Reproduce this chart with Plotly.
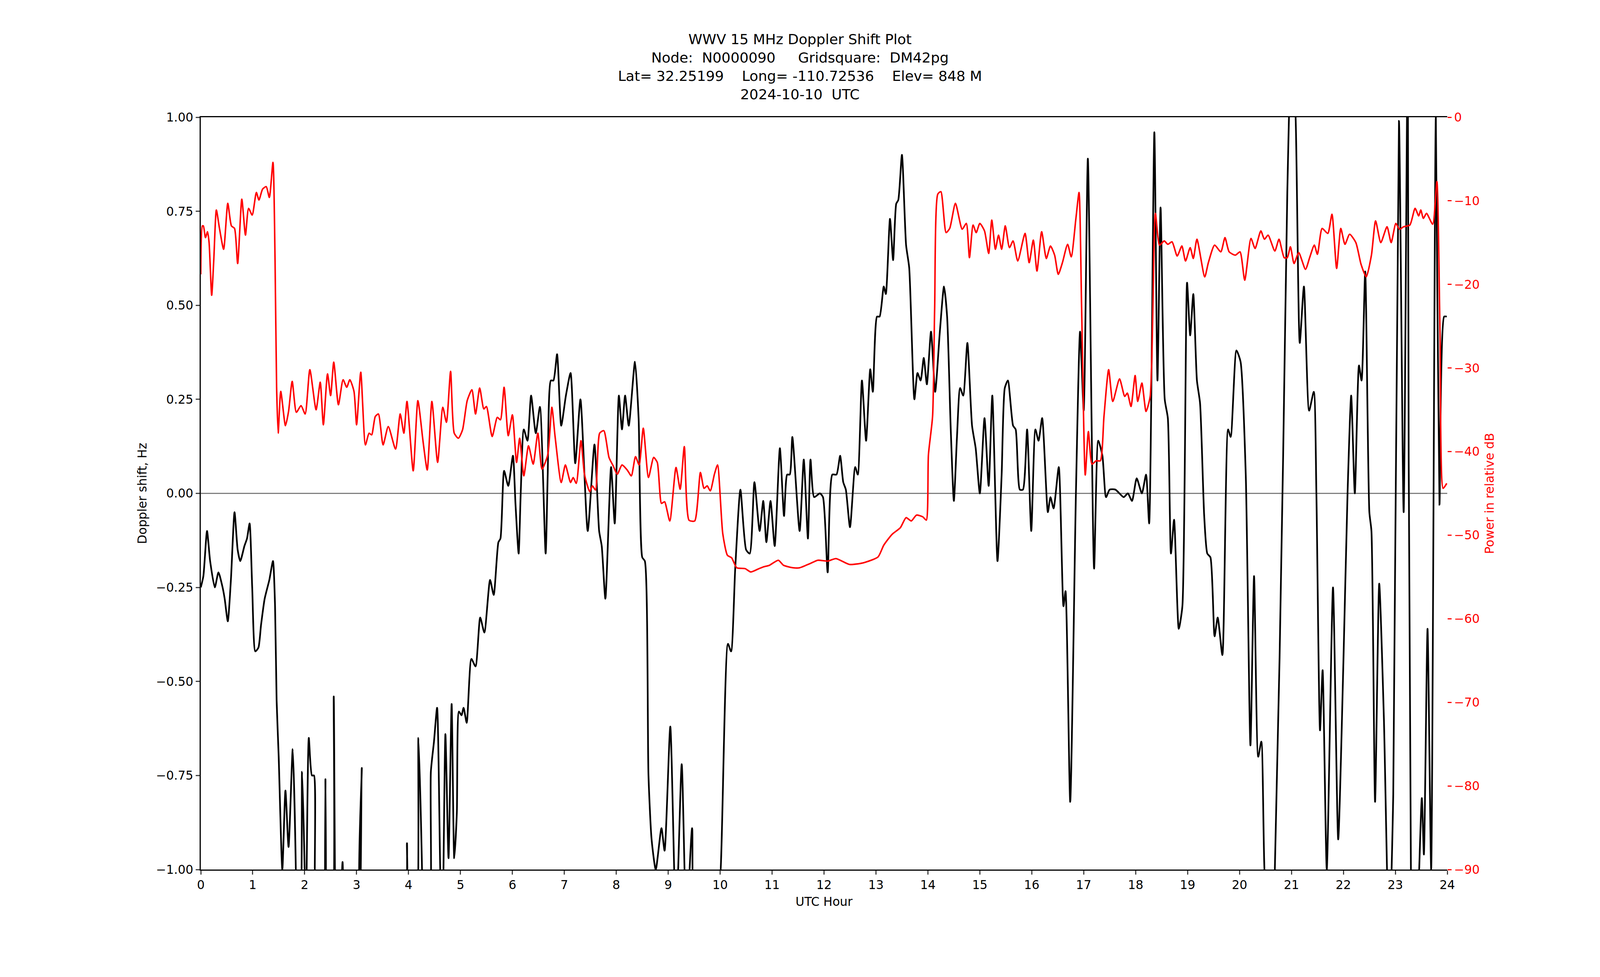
import plotly.graph_objects as go

dop_hours = [0,0.05,0.12,0.18,0.27,0.34,0.42,0.46,0.52,0.58,0.65,0.71,0.76,0.84,0.89,0.94,0.99,1.05,1.11,1.16,1.23,1.32,1.39,1.43,1.46,1.5,1.57,1.63,1.69,1.77,1.83,1.84,1.89,1.95,2.0,2.02,2.08,2.14,2.18,2.24,2.35,2.4,2.44,2.51,2.56,2.61,2.69,2.73,2.77,3.02,3.1,3.16,3.89,3.97,4.02,4.12,4.19,4.26,4.28,4.38,4.43,4.49,4.55,4.61,4.65,4.71,4.77,4.83,4.88,4.93,4.97,5.02,5.06,5.12,5.21,5.29,5.38,5.46,5.57,5.64,5.73,5.77,5.84,5.92,6.01,6.06,6.12,6.16,6.22,6.29,6.36,6.45,6.53,6.64,6.68,6.74,6.79,6.86,6.94,7.03,7.12,7.21,7.31,7.45,7.58,7.67,7.72,7.79,7.9,7.97,8.05,8.11,8.17,8.24,8.36,8.43,8.5,8.55,8.62,8.68,8.76,8.87,8.93,9.04,9.15,9.26,9.35,9.46,9.56,9.89,10.01,10.15,10.21,10.29,10.39,10.5,10.57,10.66,10.76,10.83,10.89,10.97,11.05,11.15,11.23,11.29,11.34,11.39,11.53,11.61,11.69,11.74,11.81,11.92,11.98,12.07,12.16,12.24,12.31,12.37,12.42,12.5,12.6,12.65,12.73,12.81,12.89,12.94,13.02,13.07,13.15,13.19,13.27,13.33,13.39,13.43,13.5,13.58,13.64,13.74,13.8,13.86,13.92,13.98,14.06,14.14,14.23,14.31,14.37,14.44,14.5,14.56,14.62,14.68,14.76,14.85,14.92,15.0,15.09,15.17,15.24,15.34,15.42,15.48,15.54,15.64,15.69,15.77,15.83,15.91,15.99,16.07,16.13,16.2,16.31,16.36,16.42,16.52,16.61,16.65,16.74,16.85,16.93,17.0,17.08,17.2,17.28,17.36,17.43,17.5,17.61,17.77,17.85,17.93,18.02,18.12,18.2,18.26,18.36,18.42,18.48,18.56,18.62,18.68,18.74,18.83,18.9,18.99,19.05,19.11,19.18,19.24,19.32,19.38,19.44,19.52,19.58,19.67,19.78,19.83,19.94,20.02,20.12,20.21,20.28,20.36,20.42,20.48,20.58,20.68,20.84,20.92,21.0,21.08,21.16,21.24,21.34,21.43,21.48,21.55,21.6,21.68,21.8,21.9,22.0,22.08,22.15,22.22,22.3,22.35,22.42,22.5,22.54,22.61,22.69,22.78,22.88,22.96,23.07,23.16,23.24,23.3,23.4,23.51,23.55,23.62,23.69,23.78,23.85,23.94,23.99]
doppler_hz = [-0.25,-0.22,-0.1,-0.18,-0.25,-0.21,-0.25,-0.28,-0.34,-0.23,-0.05,-0.15,-0.18,-0.14,-0.12,-0.08,-0.25,-0.42,-0.41,-0.35,-0.28,-0.23,-0.18,-0.3,-0.55,-0.7,-1.0,-0.79,-0.94,-0.68,-1.0,-1.2,-1.2,-0.74,-1.0,-1.2,-0.65,-0.75,-0.75,-1.2,-1.2,-0.76,-1.2,-1.2,-0.54,-1.2,-1.1,-0.98,-1.1,-1.2,-0.73,-1.2,-1.2,-0.93,-1.2,-1.2,-0.65,-1.0,-1.2,-1.2,-0.74,-0.66,-0.57,-1.0,-1.2,-0.64,-0.97,-0.56,-0.97,-0.85,-0.58,-0.59,-0.57,-0.61,-0.44,-0.46,-0.33,-0.37,-0.23,-0.27,-0.13,-0.12,0.06,0.02,0.1,-0.03,-0.16,0.0,0.17,0.14,0.26,0.16,0.23,-0.16,0.05,0.3,0.3,0.37,0.18,0.26,0.32,0.08,0.25,-0.1,0.13,-0.1,-0.14,-0.28,0.07,-0.08,0.26,0.17,0.26,0.18,0.35,0.2,-0.17,-0.18,-0.75,-0.92,-1.0,-0.89,-0.95,-0.62,-1.15,-0.72,-1.15,-0.89,-1.2,-1.2,-1.0,-0.4,-0.42,-0.2,0.01,-0.15,-0.16,0.03,-0.1,-0.02,-0.13,-0.02,-0.14,0.12,-0.06,0.05,0.05,0.15,-0.1,0.09,-0.12,0.09,-0.01,0.0,-0.01,-0.21,0.05,0.05,0.1,0.03,0.01,-0.09,0.07,0.05,0.3,0.14,0.33,0.27,0.47,0.47,0.55,0.53,0.73,0.62,0.77,0.78,0.9,0.66,0.6,0.25,0.32,0.3,0.36,0.29,0.43,0.27,0.43,0.55,0.47,0.17,-0.02,0.15,0.28,0.26,0.4,0.18,0.12,0.0,0.2,0.02,0.26,-0.18,0.05,0.28,0.3,0.18,0.17,0.01,0.01,0.17,-0.1,0.17,0.14,0.2,-0.05,-0.01,-0.04,0.07,-0.3,-0.26,-0.82,0.0,0.43,0.22,0.89,-0.2,0.14,0.1,-0.01,0.01,0.01,-0.01,0.0,-0.02,0.04,0.0,0.05,-0.08,0.96,0.3,0.76,0.25,0.2,-0.16,-0.07,-0.36,-0.3,0.56,0.42,0.53,0.3,0.24,-0.06,-0.16,-0.17,-0.38,-0.33,-0.43,0.17,0.15,0.38,0.35,0.05,-0.67,-0.22,-0.7,-0.66,-1.0,-1.2,-1.0,0.1,0.8,1.2,1.0,0.4,0.55,0.22,0.27,0.0,-0.63,-0.47,-1.0,-0.25,-0.92,-0.45,0.0,0.26,0.0,0.34,0.3,0.59,-0.05,-0.1,-0.82,-0.24,-0.6,-1.2,-0.8,0.99,-0.05,1.2,-1.0,-1.2,-0.81,-0.96,-0.36,-1.0,1.0,-0.03,0.47,0.47]

pow_hours = [0,0.03,0.05,0.09,0.13,0.16,0.21,0.25,0.3,0.36,0.44,0.52,0.59,0.65,0.71,0.79,0.86,0.92,0.99,1.07,1.12,1.19,1.26,1.32,1.39,1.43,1.46,1.49,1.54,1.63,1.69,1.76,1.84,1.93,2.01,2.1,2.22,2.3,2.36,2.44,2.5,2.56,2.65,2.74,2.81,2.87,2.95,3.0,3.08,3.17,3.24,3.29,3.36,3.42,3.51,3.61,3.75,3.84,3.91,3.97,4.09,4.18,4.28,4.36,4.45,4.56,4.66,4.73,4.81,4.88,4.96,5.04,5.13,5.22,5.29,5.37,5.45,5.5,5.61,5.71,5.77,5.84,5.92,6.0,6.08,6.14,6.22,6.31,6.4,6.49,6.57,6.68,6.76,6.82,6.94,7.02,7.12,7.17,7.23,7.32,7.39,7.49,7.54,7.6,7.68,7.76,7.86,7.94,8.02,8.11,8.21,8.29,8.37,8.44,8.52,8.62,8.72,8.79,8.87,8.93,9.03,9.15,9.23,9.31,9.4,9.51,9.62,9.69,9.75,9.81,9.89,9.95,10.05,10.14,10.22,10.32,10.48,10.59,10.75,10.83,10.95,11.12,11.22,11.41,11.53,11.73,11.88,12.07,12.23,12.49,12.76,13.04,13.15,13.31,13.47,13.58,13.68,13.78,13.9,13.97,14.01,14.09,14.13,14.19,14.25,14.35,14.42,14.53,14.66,14.74,14.8,14.87,14.93,15.0,15.09,15.17,15.23,15.3,15.36,15.42,15.49,15.57,15.64,15.73,15.87,15.95,16.03,16.1,16.19,16.28,16.36,16.44,16.51,16.59,16.69,16.76,16.85,16.91,16.96,17.03,17.09,17.16,17.24,17.32,17.39,17.48,17.56,17.69,17.79,17.84,17.91,17.99,18.04,18.12,18.2,18.28,18.38,18.46,18.55,18.62,18.7,18.8,18.89,18.96,19.05,19.11,19.18,19.33,19.4,19.52,19.64,19.72,19.8,19.92,20.01,20.1,20.22,20.3,20.41,20.48,20.55,20.68,20.76,20.86,20.92,20.98,21.05,21.14,21.27,21.35,21.44,21.5,21.59,21.7,21.78,21.87,21.95,22.03,22.12,22.24,22.34,22.44,22.54,22.62,22.72,22.84,22.92,23.01,23.08,23.16,23.28,23.38,23.45,23.49,23.54,23.6,23.72,23.8,23.86,23.92,23.99]
power_db = [-18.8,-13.0,-13.0,-14.4,-13.7,-15.0,-21.3,-17.1,-11.1,-13.3,-15.8,-10.3,-13.0,-13.3,-17.5,-9.8,-14.1,-10.9,-11.7,-9.0,-9.9,-8.6,-8.3,-9.6,-5.4,-17.1,-32.3,-37.8,-32.8,-36.9,-35.2,-31.6,-35.3,-34.5,-35.5,-30.2,-35.0,-31.7,-36.8,-30.7,-33.3,-29.3,-34.4,-31.4,-32.3,-31.4,-32.8,-36.8,-30.5,-39.2,-37.8,-38.0,-35.8,-35.5,-39.2,-37.0,-39.7,-35.5,-37.8,-34.0,-42.3,-33.9,-38.8,-42.2,-34.0,-41.3,-34.7,-36.5,-30.4,-37.8,-38.4,-37.4,-33.9,-32.6,-35.5,-32.4,-34.9,-34.6,-38.2,-35.9,-36.2,-32.3,-38.1,-35.6,-41.3,-38.4,-42.9,-39.3,-41.5,-37.8,-42.1,-40.4,-34.7,-38.1,-43.7,-41.6,-43.7,-43.1,-43.8,-38.7,-42.8,-44.8,-44.1,-44.6,-37.8,-37.5,-40.7,-41.7,-42.7,-41.6,-42.2,-42.9,-40.6,-41.6,-37.2,-43.1,-40.7,-41.3,-46.2,-46.0,-48.3,-41.9,-44.5,-39.4,-48.2,-48.3,-42.5,-44.4,-44.1,-44.7,-42.7,-41.6,-49.8,-52.4,-52.7,-53.9,-54.0,-54.4,-54.0,-53.8,-53.6,-53.0,-53.6,-53.9,-53.9,-53.4,-53.0,-53.1,-52.8,-53.5,-53.3,-52.6,-51.2,-49.9,-49.1,-47.9,-48.3,-47.6,-47.8,-48.2,-40.4,-35.8,-22.9,-9.2,-8.9,-13.8,-13.3,-10.3,-13.4,-12.7,-16.8,-12.9,-13.8,-12.7,-13.6,-16.3,-12.3,-15.8,-14.1,-15.8,-13.0,-15.6,-14.8,-17.2,-13.9,-17.4,-14.7,-18.4,-13.7,-16.9,-15.4,-16.5,-18.8,-17.4,-15.2,-16.7,-12.1,-9.0,-22.9,-42.8,-37.6,-41.5,-41.1,-41.1,-35.8,-30.2,-34.0,-31.3,-33.4,-33.0,-34.6,-30.9,-34.0,-31.8,-35.2,-33.4,-11.5,-15.3,-14.8,-15.2,-14.9,-16.6,-15.4,-17.2,-15.6,-16.9,-14.6,-19.1,-17.4,-15.3,-16.1,-14.4,-16.1,-16.5,-16.1,-19.5,-14.5,-15.7,-13.6,-14.6,-14.1,-16.0,-14.6,-16.8,-16.8,-15.5,-17.5,-16.2,-18.2,-16.8,-15.3,-16.4,-13.3,-13.9,-11.6,-18.1,-13.3,-15.2,-14.0,-15.0,-17.6,-19.1,-16.5,-12.4,-15.0,-13.1,-15.0,-12.7,-13.4,-13.1,-12.9,-10.9,-11.8,-11.1,-12.1,-11.5,-12.8,-7.7,-25.8,-44.4,-43.8]

x_ticks = list(range(0, 25))
left_ticks = [-1.0, -0.75, -0.5, -0.25, 0.0, 0.25, 0.5, 0.75, 1.0]
right_ticks = [0, -10, -20, -30, -40, -50, -60, -70, -80, -90]

FONT = "DejaVu Sans"
fig = go.Figure()
fig.add_trace(go.Scatter(x=dop_hours, y=doppler_hz, mode="lines",
                         line=dict(color="black", width=4.5, shape="spline", smoothing=0.6),
                         showlegend=False))
fig.add_trace(go.Scatter(x=pow_hours, y=power_db, mode="lines", yaxis="y2",
                         line=dict(color="red", width=4, shape="spline", smoothing=0.6),
                         showlegend=False))

nb = "&nbsp;"
title = ("WWV 15 MHz Doppler Shift Plot<br>"
         f"Node:{nb*2}N0000090{nb*5}Gridsquare:{nb*2}DM42pg<br>"
         f"Lat= 32.25199{nb*4}Long= -110.72536{nb*4}Elev= 848 M<br>"
         f"2024-10-10{nb*2}UTC")

fig.update_layout(
    autosize=True,
    paper_bgcolor="white", plot_bgcolor="white",
    margin=dict(l=600, r=475, t=300, b=263),
    font=dict(family=FONT, size=36, color="black"),
    title=dict(text=title, x=0.5, xanchor="center", yref="container", y=0.955, yanchor="top",
               font=dict(family=FONT, size=42)),
    xaxis=dict(range=[0, 24], tickvals=x_ticks, ticks="outside", ticklen=12, tickwidth=3,
               showgrid=False, zeroline=False, showline=True, linecolor="black", linewidth=3,
               mirror=True, title=dict(text="UTC Hour", font=dict(size=36)),
               tickfont=dict(size=36)),
    yaxis=dict(range=[-1, 1], tickvals=left_ticks, tickformat=".2f", ticks="outside",
               ticklen=12, tickwidth=3, showgrid=False, zeroline=True, zerolinecolor="gray",
               zerolinewidth=3, showline=True, linecolor="black", linewidth=3,
               title=dict(text="Doppler shift, Hz", font=dict(size=36)), tickfont=dict(size=36)),
    yaxis2=dict(range=[-90, 0], tickvals=right_ticks, overlaying="y", side="right",
                ticks="outside", ticklen=12, tickwidth=3, tickcolor="red",
                showgrid=False, zeroline=False, showline=False,
                tickfont=dict(size=36, color="red"),
                title=dict(text="Power in relative dB", font=dict(size=36, color="red"))),
)

post = """
document.body.style.margin='0';document.body.style.overflow='hidden';
var gd=document.getElementById('{plot_id}');
var W=window.innerWidth, H=window.innerHeight, s=W/4750;
Plotly.relayout(gd,{
 'margin.l':0.1256*W,'margin.r':0.0955*W,'margin.t':0.12*H,'margin.b':0.11*H,
 'font.size':36*s,'title.font.size':42*s,
 'xaxis.tickfont.size':36*s,'xaxis.title.font.size':36*s,'xaxis.ticklen':12*s,'xaxis.tickwidth':3*s,'xaxis.linewidth':3*s,
 'yaxis.tickfont.size':36*s,'yaxis.title.font.size':36*s,'yaxis.ticklen':12*s,'yaxis.tickwidth':3*s,'yaxis.linewidth':3*s,'yaxis.zerolinewidth':3*s,
 'yaxis2.tickfont.size':36*s,'yaxis2.title.font.size':36*s,'yaxis2.ticklen':12*s,'yaxis2.tickwidth':3*s
});
Plotly.restyle(gd,{'line.width':[5*s,4.5*s]});
"""
fig.write_html("out.html", default_width="100vw", default_height="100vh",
               config={"responsive": True, "displayModeBar": False},
               post_script=post)
